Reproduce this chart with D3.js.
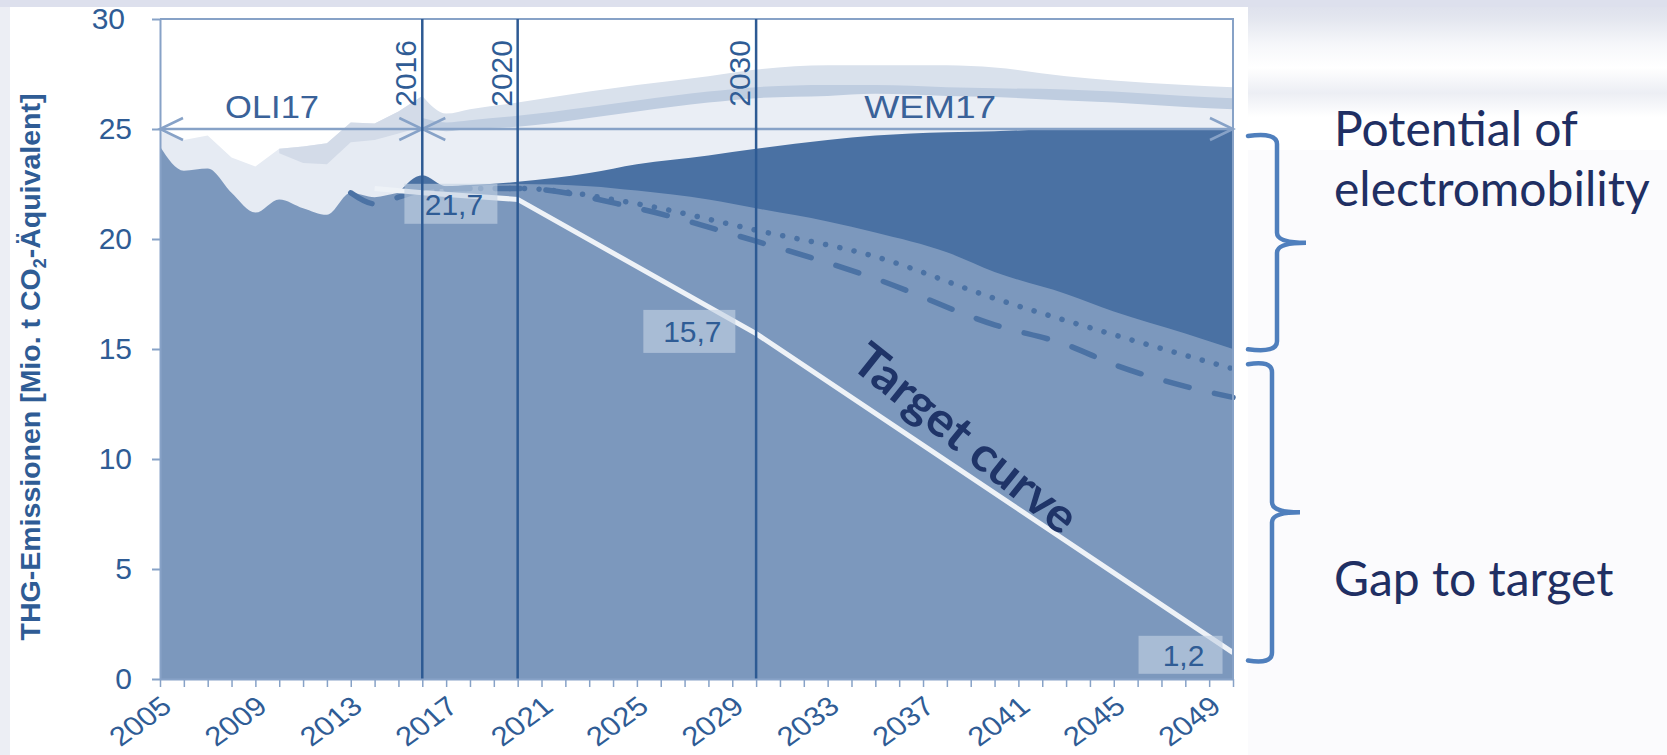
<!DOCTYPE html>
<html>
<head>
<meta charset="utf-8">
<script src="https://cdn.jsdelivr.net/npm/d3@7"></script>
<style>
  html, body { margin: 0; padding: 0; background: #fff; }
  svg { display: block; }
</style>
</head>
<body>
<svg id="chart" width="1667" height="755"></svg>
<script>
//DATA
const histYears = [2005, 2006, 2007, 2008, 2009, 2010, 2011, 2012, 2013, 2014, 2015, 2016];
const histEmissions = [24.2, 23.1, 23.2, 22.1, 21.2, 21.8, 21.4, 21.1, 22.1, 21.9, 22.1, 22.2];
const histUpper = [24.9, 24.5, 24.7, 23.7, 23.3, 24.1, 24.2, 24.35, 25.3, 25.25, 25.8, 26.5];
const histBandYears = [2010, 2011, 2012, 2013, 2014, 2015, 2016];
const histBandLower = [23.9, 23.45, 23.4, 24.4, 24.5, 24.8, 25.1];

const projYears = [2015, 2016, 2017, 2018, 2020, 2023, 2025, 2028, 2030, 2033, 2035, 2038, 2040, 2043, 2045, 2048, 2050];
const withMeasures = [22.1, 22.2, 22.3, 22.4, 22.5, 22.4, 22.2, 21.8, 21.4, 20.8, 20.3, 19.4, 18.5, 17.5, 16.7, 15.7, 15.0];
const wemProjection = [22.1, 22.9, 22.4, 22.45, 22.6, 23.0, 23.4, 23.8, 24.1, 24.5, 24.7, 24.85, 24.9, 25.0, 25.0, 25.0, 25.0];

const wemYears = [2016, 2017, 2018, 2020, 2023, 2025, 2028, 2030, 2033, 2035, 2038, 2040, 2043, 2045, 2048, 2050];
const wemUpper = [26.5, 25.7, 25.9, 26.2, 26.7, 27.0, 27.4, 27.7, 27.9, 27.9, 27.9, 27.8, 27.4, 27.2, 27.0, 26.9];
const wemMiddle = [25.5, 25.3, 25.4, 25.6, 26.0, 26.3, 26.7, 26.9, 27.0, 27.0, 26.9, 26.85, 26.8, 26.7, 26.5, 26.4];
const wemLower = [25.1, 24.9, 25.0, 25.1, 25.5, 25.8, 26.2, 26.4, 26.5, 26.6, 26.5, 26.45, 26.3, 26.2, 26.0, 25.9];

const dottedYears = [2016, 2018, 2020, 2025, 2030, 2035, 2040, 2045, 2050];
const dottedValues = [22.2, 22.3, 22.3, 21.6, 20.4, 19.2, 17.3, 15.65, 14.1];
const dashedYears = [2013, 2014, 2015, 2016, 2018, 2020, 2025, 2030, 2035, 2040, 2043, 2045, 2048, 2050];
const dashedValues = [22.1, 21.6, 21.9, 22.2, 22.3, 22.3, 21.4, 19.9, 18.2, 16.1, 15.2, 14.3, 13.3, 12.8];

const targetYears = [2014, 2016, 2020, 2030, 2050];
const targetValues = [22.3, 22.1, 21.8, 15.7, 1.2];

const markerYears = [2016, 2020, 2030];
const periodNames = ['OLI17', 'WEM17'];
const periodYears = [2009.7, 2037.3];
const periodValue = 25.5;

const valueLabels = ['21,7', '15,7', '1,2'];
const valueLabelYears = [2017.2, 2027.2, 2047.8];
const valueLabelValues = [21.6, 15.8, 1.1];

const yTicks = [0, 5, 10, 15, 20, 25, 30];
const xLabelYears = d3.range(2005, 2050, 4);

const bracketTexts = [['Potential of', 'electromobility'], ['Gap to target']];
const bracketRanges = [[14.9, 24.77], [0.75, 14.4]];

//SCALES
const x = d3.scaleLinear().domain([2005, 2050]).range([160, 1233]);
const y = d3.scaleLinear().domain([0, 30]).range([679, 19]);

const svg = d3.select('#chart');
const defs = svg.append('defs');

//BACKGROUND
const grad = defs.append('linearGradient').attr('id', 'sideGrad')
    .attr('x1', 0).attr('y1', 0).attr('x2', 0).attr('y2', 1);
[[0, '#dcdfec'], [0.12, '#e3e6ef'], [0.3, '#f6f7fa'], [0.45, '#ffffff'], [0.62, '#eceef4'], [0.78, '#ffffff'], [1, '#ffffff']]
    .forEach(s => grad.append('stop').attr('offset', s[0]).attr('stop-color', s[1]));
svg.append('rect').attr('width', 1667).attr('height', 755).attr('fill', '#fbfbfd');
svg.append('rect').attr('x', 1248).attr('y', 0).attr('width', 419).attr('height', 150).attr('fill', 'url(#sideGrad)');
svg.append('rect').attr('width', 1667).attr('height', 7).attr('fill', '#dde0ed');
svg.append('rect').attr('x', 0).attr('y', 7).attr('width', 10).attr('height', 748).attr('fill', '#eceef4');
svg.append('rect').attr('x', 10).attr('y', 7).attr('width', 1238).attr('height', 748).attr('fill', '#ffffff');

//AREAS
function areaUnder(years, values, curve){
    return d3.area()
        .x((d, i) => x(years[i]))
        .y0(y(0))
        .y1(d => y(d))
        .curve(curve)(values);
}
const smooth = d3.curveMonotoneX;

svg.append('path').attr('d', areaUnder(wemYears, wemUpper, smooth)).attr('fill', '#d9e1ec');
svg.append('path').attr('d', areaUnder(wemYears, wemMiddle, smooth)).attr('fill', '#bfcde0');
svg.append('path').attr('d', areaUnder(wemYears, wemLower, smooth)).attr('fill', '#eaeef5');
svg.append('path').attr('d', areaUnder(histYears, histUpper, d3.curveLinear)).attr('fill', '#e6ebf3');

const bandTop = histUpper.slice(histYears.indexOf(2010));
svg.append('path')
    .attr('d', d3.area()
        .x((d, i) => x(histBandYears[i]))
        .y0(d => y(d))
        .y1((d, i) => y(bandTop[i]))(histBandLower))
    .attr('fill', '#d3dbe8');

svg.append('path').attr('d', areaUnder(projYears, wemProjection, smooth)).attr('fill', '#4a71a3');

const cut = histYears.indexOf(projYears[0]);
const allYears = histYears.slice(0, cut).concat(projYears);
const allValues = histEmissions.slice(0, cut).concat(withMeasures);
svg.append('path').attr('d', areaUnder(allYears, allValues, smooth)).attr('fill', '#7c98bd');

//LINES
function lineOf(years, values){
    return d3.line().x((d, i) => x(years[i])).y(d => y(d)).curve(smooth)(values);
}
svg.append('path').attr('d', lineOf(dottedYears, dottedValues))
    .attr('fill', 'none').attr('stroke', '#4b72a4').attr('stroke-width', 5.5)
    .attr('stroke-linecap', 'round').attr('stroke-dasharray', '0.1 14.5');
svg.append('path').attr('d', lineOf(dashedYears, dashedValues))
    .attr('fill', 'none').attr('stroke', '#4b72a4').attr('stroke-width', 5.5)
    .attr('stroke-linecap', 'round').attr('stroke-dasharray', '24 26');
svg.append('path').attr('d', d3.line().x((d, i) => x(targetYears[i])).y(d => y(d))(targetValues))
    .attr('fill', 'none').attr('stroke', '#eef2f7').attr('stroke-width', 5);

//VALUE LABELS
const boxW = [93, 92, 84];
const boxH = [40, 43, 38];
valueLabels.forEach((t, i) => {
    const cx = x(valueLabelYears[i]);
    const cy = y(valueLabelValues[i]);
    svg.append('rect')
        .attr('x', cx - boxW[i] / 2).attr('y', cy - boxH[i] / 2)
        .attr('width', boxW[i]).attr('height', boxH[i])
        .attr('fill', '#c4d2e4').attr('opacity', 0.62);
    svg.append('text')
        .attr('x', cx + 3).attr('y', cy + 11)
        .attr('text-anchor', 'middle')
        .attr('font-family', 'Liberation Sans, Arial, sans-serif')
        .attr('font-size', 30)
        .attr('fill', '#2f5c95')
        .text(t);
});

//FRAME + PERIOD ARROWS
const frameColor = '#87a2c7';
svg.append('path')
    .attr('d', `M${x(2005)},${y(30)}H${x(2050)}V${y(0)}`)
    .attr('fill', 'none').attr('stroke', frameColor).attr('stroke-width', 2);

const arrowY = y(25);
svg.append('line')
    .attr('x1', x(2005)).attr('x2', x(2050)).attr('y1', arrowY).attr('y2', arrowY)
    .attr('stroke', frameColor).attr('stroke-width', 2.5);
const heads = [[x(2005), 1], [x(2016), -1], [x(2016), 1], [x(2050), -1]];
heads.forEach(h => {
    svg.append('path')
        .attr('d', `M${h[0] + h[1] * 23},${arrowY - 11}L${h[0]},${arrowY}L${h[0] + h[1] * 23},${arrowY + 11}`)
        .attr('fill', 'none').attr('stroke', frameColor).attr('stroke-width', 2.5);
});

//MARKER LINES
markerYears.forEach(yr => {
    svg.append('line')
        .attr('x1', x(yr)).attr('x2', x(yr)).attr('y1', y(30)).attr('y2', y(0))
        .attr('stroke', '#2d5a93').attr('stroke-width', 2.5);
    svg.append('text')
        .attr('transform', `translate(${x(yr) - 6},${y(30) + 21}) rotate(-90)`)
        .attr('text-anchor', 'end')
        .attr('font-family', 'Liberation Sans, Arial, sans-serif')
        .attr('font-size', 30)
        .attr('fill', '#2f5c95')
        .text(yr);
});

periodNames.forEach((p, i) => {
    svg.append('text')
        .attr('x', x(periodYears[i])).attr('y', y(periodValue))
        .attr('text-anchor', 'middle')
        .attr('font-family', 'Liberation Sans, Arial, sans-serif')
        .attr('font-size', 31)
        .attr('textLength', i === 0 ? 94 : 132)
        .attr('lengthAdjust', 'spacingAndGlyphs')
        .attr('fill', '#3a6299')
        .text(p);
});

//AXES
const yAxis = svg.append('g')
    .attr('transform', `translate(${x(2005)},0)`)
    .call(d3.axisLeft(y).tickValues(yTicks).tickSize(8).tickPadding(20).tickSizeOuter(0));
yAxis.select('.domain').attr('stroke', frameColor).attr('stroke-width', 2);
yAxis.selectAll('.tick line').attr('stroke', frameColor).attr('stroke-width', 2);
yAxis.selectAll('.tick text')
    .attr('x', d => d === 30 ? -35 : -28)
    .attr('font-family', 'Liberation Sans, Arial, sans-serif')
    .attr('font-size', 30).attr('fill', '#2f5c95');

const xAxis = svg.append('g')
    .attr('transform', `translate(0,${y(0)})`)
    .call(d3.axisBottom(x).tickValues(d3.range(2005, 2051)).tickSize(8).tickSizeOuter(0)
        .tickFormat(d => xLabelYears.includes(d) ? d : ''));
xAxis.select('.domain').attr('stroke', frameColor).attr('stroke-width', 2);
xAxis.selectAll('.tick line').attr('stroke', frameColor).attr('stroke-width', 1.5);
xAxis.selectAll('.tick text')
    .attr('x', 0).attr('y', 0).attr('dy', 0)
    .attr('transform', 'translate(13,30) scale(1.15,1) rotate(-40)')
    .attr('text-anchor', 'end')
    .attr('font-family', 'Liberation Sans, Arial, sans-serif')
    .attr('font-size', 27).attr('fill', '#2f5c95');

//Y TITLE
const yTitle = svg.append('text')
    .attr('transform', `translate(40,${(y(0) + y(30)) / 2 + 18}) rotate(-90)`)
    .attr('text-anchor', 'middle')
    .attr('font-family', 'Liberation Sans, Arial, sans-serif')
    .attr('font-weight', 'bold')
    .attr('font-size', 28.5)
    .attr('fill', '#2f5c95');
yTitle.append('tspan').text('THG-Emissionen [Mio. t CO');
yTitle.append('tspan').attr('font-size', 18).attr('dy', 6).text('2');
yTitle.append('tspan').attr('dy', -6).text('-Äquivalent]');

//TARGET CURVE LABEL
svg.append('text')
    .attr('transform', `translate(${x(2038.35)},${y(10.35)}) rotate(38.7)`)
    .attr('text-anchor', 'middle')
    .attr('font-family', 'Lato, sans-serif')
    .attr('font-weight', 'bold')
    .attr('font-size', 48)
    .attr('textLength', 272)
    .attr('lengthAdjust', 'spacingAndGlyphs')
    .attr('fill', '#1f3468')
    .text('Target curve');

//BRACKETS
const bracketX = [[1248, 1277, 1306], [1248, 1272, 1300]];
bracketRanges.forEach((r, i) => {
    const [x0, xv, xt] = bracketX[i];
    const top = y(r[1]), bot = y(r[0]), mid = (top + bot) / 2;
    const k = 10;
    const d = `M${x0},${top + 2} Q${xv},${top - 2} ${xv},${top + k}`
        + ` L${xv},${mid - k} Q${xv},${mid} ${xt},${mid}`
        + ` Q${xv},${mid} ${xv},${mid + k} L${xv},${bot - k}`
        + ` Q${xv},${bot + 2} ${x0},${bot - 2}`;
    svg.append('path').attr('d', d)
        .attr('fill', 'none').attr('stroke', '#4f7fbd').attr('stroke-width', 4.5)
        .attr('stroke-linecap', 'round');
});

const textBaselines = [[146, 206], [596]];
bracketTexts.forEach((lines, i) => {
    lines.forEach((t, j) => {
        svg.append('text')
            .attr('x', 1334).attr('y', textBaselines[i][j])
            .attr('font-family', 'Lato, sans-serif')
            .attr('font-size', 48)
            .attr('fill', '#1f2f63')
            .text(t);
    });
});
</script>
</body>
</html>
